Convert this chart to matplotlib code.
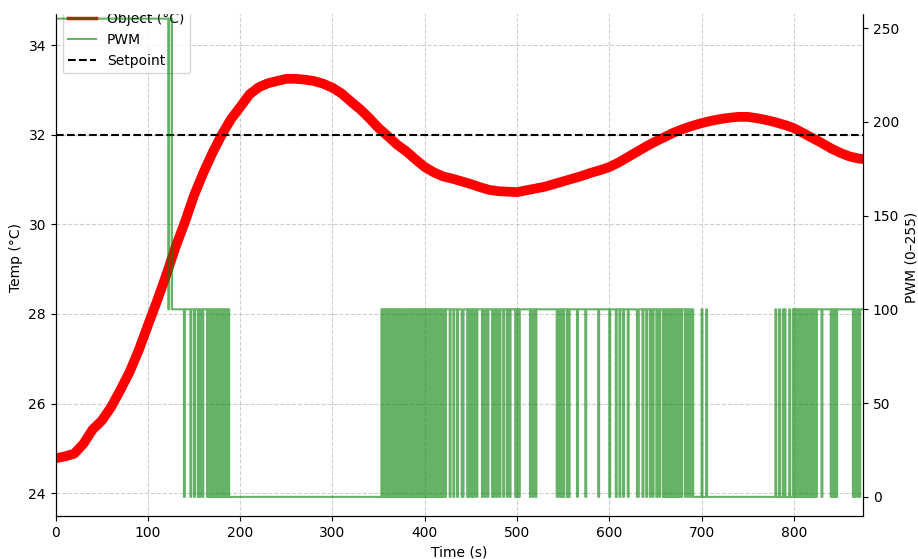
import matplotlib
matplotlib.use("Agg")
import matplotlib.pyplot as plt
from matplotlib.patches import Rectangle
import numpy as np

# object temperature, every 10 s
temp_t = [0, 10, 20, 30, 40, 50, 60, 70, 80, 90, 100, 110, 120, 130, 140, 150, 160, 170,
          180, 190, 200, 210, 220, 230, 240, 250, 260, 270, 280, 290, 300, 310, 320, 330,
          340, 350, 360, 370, 380, 390, 400, 410, 420, 430, 440, 450, 460, 470, 480, 490,
          500, 510, 520, 530, 540, 550, 560, 570, 580, 590, 600, 610, 620, 630, 640, 650,
          660, 670, 680, 690, 700, 710, 720, 730, 740, 750, 760, 770, 780, 790, 800, 810,
          820, 830, 840, 850, 860, 870, 875]
temp_c = [24.78, 24.82, 24.88, 25.1, 25.42, 25.62, 25.92, 26.3, 26.7, 27.19, 27.75, 28.3,
          28.88, 29.5, 30.05, 30.65, 31.15, 31.6, 32.0, 32.35, 32.62, 32.9, 33.06, 33.15,
          33.2, 33.25, 33.25, 33.23, 33.2, 33.14, 33.05, 32.92, 32.74, 32.57, 32.37, 32.15,
          31.97, 31.78, 31.63, 31.45, 31.28, 31.16, 31.07, 31.02, 30.96, 30.9, 30.83, 30.77,
          30.74, 30.73, 30.72, 30.76, 30.8, 30.84, 30.9, 30.96, 31.02, 31.08, 31.15, 31.21,
          31.28, 31.38, 31.5, 31.62, 31.74, 31.85, 31.95, 32.05, 32.13, 32.2, 32.26, 32.31,
          32.35, 32.38, 32.4, 32.4, 32.37, 32.33, 32.28, 32.22, 32.15, 32.04, 31.93, 31.82,
          31.7, 31.6, 31.52, 31.47, 31.46]
setpoint = 32.0

# PWM: base level segments, one-sample flips, and fast-chatter stretches (s)
pwm_base_start = [0, 122, 123, 126, 188, 353, 691, 798]
pwm_base_value = [255, 100, 255, 100, 0, 100, 0, 100]
pwm_flips = [139, 146, 150, 154, 156, 159,
             427, 431, 435, 440, 441, 446, 448, 451, 453, 456, 462, 465, 468, 473, 475,
             478, 481, 485, 489, 492, 498, 500, 502, 514, 517, 520, 543, 546, 548, 550,
             554, 556, 565, 574, 588, 600, 607, 611, 615, 620, 630, 631, 636, 640, 644,
             647, 651, 654, 682, 685, 688,
             700, 705, 780, 784, 788, 790, 795,
             830, 864, 866, 869, 871]
pwm_chatter = [(163, 188), (353, 424), (658, 680), (798, 826), (839, 847)]
t_end = 875


def build_pwm():
    t = np.arange(0, t_end + 1, 1.0)
    pwm = np.zeros_like(t)
    for start, value in zip(pwm_base_start, pwm_base_value):
        pwm[t >= start] = value
    for a, b in pwm_chatter:
        idx = (t >= a) & (t < b)
        pwm[idx] = np.where(t[idx] % 2 == 0, 0, 100)
    for tf in pwm_flips:
        i = int(tf)
        pwm[i] = 0 if pwm[i] == 100 else 100
    return t, pwm


t_pwm, pwm = build_pwm()

fig = plt.figure(figsize=(9.18, 5.59), dpi=100)
ax = fig.add_axes([55.7 / 918, 43 / 559, (863 - 55.7) / 918, 516.5 / 559])
ax2 = ax.twinx()

l1, = ax.plot(temp_t, temp_c, color="red", lw=7, label="Object (°C)")
l3 = ax.axhline(setpoint, color="black", ls="--", lw=1.5, label="Setpoint")
l2, = ax2.plot(t_pwm, pwm, color="green", alpha=0.6, lw=1.5, drawstyle="steps-post", label="PWM")

ax.set_xlim(0, t_end)
ax.set_ylim(23.49, 35.02)
ax2.set_ylim(-10.2, 265.2)
ax.set_yticks([24, 26, 28, 30, 32, 34])
ax2.set_yticks([0, 50, 100, 150, 200, 250])
ax.set_xlabel("Time (s)")
ax.set_ylabel("Temp (°C)")
ax2.set_ylabel("PWM (0–255)")
ax.grid(True, linestyle="--", alpha=0.6)

leg = ax.legend([l1, l2, l3], ["Object (°C)", "PWM", "Setpoint"], loc="upper left")
leg.get_lines()[0].set_linewidth(2.5)

# the top strip of the original image is blank
fig.add_artist(Rectangle((0, 1 - 13 / 559), 1, 13 / 559, transform=fig.transFigure,
                         color="white", zorder=100))

fig.savefig("out.png", dpi=100)
